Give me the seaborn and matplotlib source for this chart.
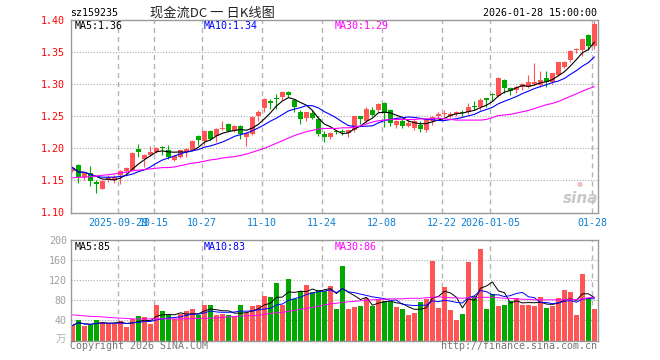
import numpy as np
import pandas as pd
import matplotlib
matplotlib.use('Agg')
import matplotlib.pyplot as plt
import seaborn as sns

# --- data (sz159235, daily K) ---
opens = [1.165, 1.174, 1.155, 1.161, 1.148, 1.137, 1.150, 1.150, 1.158, 1.164,
         1.167, 1.199, 1.184, 1.190, 1.195, 1.202, 1.198, 1.182, 1.187, 1.195,
         1.1975, 1.219, 1.211, 1.227, 1.219, 1.230, 1.238, 1.227, 1.235, 1.218,
         1.222, 1.250, 1.263, 1.274, 1.278, 1.280, 1.288, 1.2755, 1.256, 1.248,
         1.255, 1.245, 1.222, 1.218, 1.227, 1.227, 1.224, 1.229, 1.250, 1.242,
         1.259, 1.259, 1.271, 1.260, 1.236, 1.243, 1.235, 1.231, 1.236, 1.228,
         1.242, 1.250, 1.254, 1.250, 1.254, 1.256, 1.256, 1.266, 1.265, 1.278,
         1.284, 1.282, 1.307, 1.294, 1.291, 1.295, 1.296, 1.300, 1.299, 1.309,
         1.304, 1.315, 1.327, 1.337, 1.353, 1.354, 1.377, 1.359]
highs = [1.172, 1.175, 1.163, 1.172, 1.150, 1.150, 1.158, 1.158, 1.167, 1.171,
         1.194, 1.207, 1.191, 1.204, 1.202, 1.204, 1.205, 1.190, 1.198, 1.201,
         1.213, 1.221, 1.228, 1.228, 1.232, 1.243, 1.239, 1.236, 1.236, 1.226,
         1.250, 1.260, 1.278, 1.277, 1.284, 1.289, 1.289, 1.277, 1.260, 1.257,
         1.259, 1.250, 1.227, 1.226, 1.228, 1.230, 1.229, 1.251, 1.251, 1.265,
         1.264, 1.270, 1.272, 1.262, 1.244, 1.247, 1.245, 1.246, 1.242, 1.246,
         1.251, 1.257, 1.260, 1.256, 1.258, 1.259, 1.271, 1.274, 1.279, 1.279,
         1.286, 1.311, 1.308, 1.295, 1.297, 1.302, 1.315, 1.333, 1.320, 1.320,
         1.318, 1.335, 1.336, 1.354, 1.357, 1.371, 1.378, 1.398]
lows = [1.163, 1.146, 1.150, 1.141, 1.131, 1.136, 1.148, 1.146, 1.145, 1.162,
        1.166, 1.187, 1.171, 1.188, 1.193, 1.190, 1.184, 1.180, 1.185, 1.187,
        1.196, 1.205, 1.205, 1.213, 1.210, 1.228, 1.225, 1.225, 1.215, 1.204,
        1.221, 1.243, 1.256, 1.262, 1.262, 1.276, 1.280, 1.257, 1.238, 1.242,
        1.245, 1.220, 1.210, 1.214, 1.222, 1.221, 1.217, 1.226, 1.238, 1.240,
        1.250, 1.257, 1.234, 1.235, 1.231, 1.231, 1.233, 1.229, 1.226, 1.226,
        1.237, 1.248, 1.249, 1.248, 1.250, 1.250, 1.254, 1.259, 1.260, 1.265,
        1.273, 1.280, 1.287, 1.283, 1.287, 1.291, 1.294, 1.298, 1.295, 1.296,
        1.301, 1.313, 1.325, 1.334, 1.349, 1.344, 1.353, 1.355]
closes = [1.170, 1.156, 1.162, 1.149, 1.144, 1.149, 1.155, 1.156, 1.165, 1.170,
          1.193, 1.194, 1.190, 1.195, 1.201, 1.200, 1.186, 1.188, 1.197, 1.199,
          1.212, 1.213, 1.227, 1.215, 1.230, 1.232, 1.227, 1.235, 1.223, 1.224,
          1.249, 1.257, 1.277, 1.270, 1.277, 1.288, 1.283, 1.264, 1.245, 1.256,
          1.247, 1.223, 1.218, 1.224, 1.225, 1.225, 1.228, 1.250, 1.245, 1.261,
          1.252, 1.269, 1.255, 1.239, 1.243, 1.235, 1.240, 1.243, 1.230, 1.245,
          1.249, 1.254, 1.255, 1.254, 1.257, 1.255, 1.265, 1.265, 1.2755, 1.2755,
          1.283, 1.310, 1.294, 1.289, 1.296, 1.300, 1.304, 1.304, 1.307, 1.304,
          1.317, 1.334, 1.335, 1.352, 1.354, 1.370, 1.359, 1.393]
# volume in 10k shares
volumes = [30, 41, 28, 30, 41, 37, 35, 32, 38, 27,
           43, 48.5, 46, 32, 71.5, 58, 51, 43, 52, 58,
           62, 51, 71.5, 71.5, 50, 52, 50, 48.5, 71.5, 55,
           69.5, 71.5, 88, 86, 115, 71.5, 123, 83, 98, 111,
           97, 100, 99, 109, 62, 148, 62, 66, 69.5, 84,
           69.5, 83, 79, 76, 67.5, 62, 50, 54.5, 77, 83,
           158, 65.5, 107, 60, 40, 52, 157, 89, 182, 62,
           92.5, 68, 71.5, 79, 84, 71.5, 71.5, 69.5, 86, 64,
           68, 84, 101, 97, 50, 133, 84, 62]
# MA30 lines (they need history before the window)
price_ma30 = [1.154, 1.155, 1.155, 1.156, 1.157, 1.158, 1.159, 1.160, 1.162, 1.163,
              1.165, 1.166, 1.167, 1.168, 1.169, 1.170, 1.170, 1.171, 1.173, 1.175,
              1.177, 1.178, 1.180, 1.182, 1.183, 1.185, 1.186, 1.187, 1.189, 1.191,
              1.194, 1.197, 1.200, 1.204, 1.208, 1.212, 1.216, 1.220, 1.223, 1.226,
              1.228, 1.230, 1.231, 1.231, 1.231, 1.232, 1.232, 1.233, 1.235, 1.238,
              1.241, 1.243, 1.244, 1.245, 1.245, 1.245, 1.245, 1.245, 1.246, 1.246,
              1.246, 1.247, 1.246, 1.245, 1.244, 1.244, 1.244, 1.244, 1.244, 1.245,
              1.248, 1.251, 1.252, 1.253, 1.255, 1.257, 1.259, 1.262, 1.265, 1.268,
              1.270, 1.273, 1.277, 1.281, 1.285, 1.289, 1.293, 1.296]
vol_ma30 = [51, 50, 49, 48, 47.5, 47, 46, 45, 44.5, 44,
            43, 43, 43, 43, 43, 43, 43, 43, 43, 43,
            43.5, 44, 44, 44.5, 45, 46, 47, 48, 48.5, 49,
            49.5, 50, 52, 54, 55, 56, 58, 60, 62, 64,
            66, 68, 71, 73, 74, 76, 77, 78, 79, 80,
            81, 82, 82, 83, 83, 83, 84, 84, 84, 85,
            86, 87, 86, 85, 85, 84, 85, 85, 86, 86,
            86, 85, 84, 84, 83, 82, 82, 81, 81, 81,
            81, 81, 81, 81, 82, 83, 85, 86]

tick_idx = [8, 14, 22, 32, 42, 52, 62, 70, 87]
tick_labels = ['2025-09-29', '10-15', '10-27', '11-10', '11-24',
               '12-08', '12-22', '2026-01-05', '01-28']
price_ticks = [1.10, 1.15, 1.20, 1.25, 1.30, 1.35, 1.40]
vol_ticks = [40, 80, 120, 160, 200]

df = pd.DataFrame({'open': opens, 'high': highs, 'low': lows,
                   'close': closes, 'vol': volumes})
df['idx'] = np.arange(len(df))
df['dir'] = np.where(df['close'] >= df['open'], 'up', 'down')
df['ma5'] = df['close'].rolling(5, min_periods=1).mean()
df['ma10'] = df['close'].rolling(10, min_periods=1).mean()
df['ma30'] = price_ma30
df['vma5'] = df['vol'].rolling(5, min_periods=1).mean()
df['vma10'] = df['vol'].rolling(10, min_periods=1).mean()
df['vma30'] = vol_ma30

RED = '#ff5555'
GREEN = '#00a800'
palette = {'up': RED, 'down': GREEN}
colors = df['dir'].map(palette)

sns.set_style('white')
plt.rcParams['font.family'] = ['DejaVu Sans Mono', 'Noto Sans CJK SC']
mono = 'DejaVu Sans Mono'


def trunc2(v):
    # price MAs are shown cut to 2 decimals, not rounded
    return f'{np.floor(v * 100 + 1e-9) / 100:.2f}'


W, H = 660, 360
fig = plt.figure(figsize=(6.6, 3.6), dpi=100)
L, R = 71, 597.7
ax = fig.add_axes([L / W, 1 - 212.5 / H, (R - L) / W, (212.5 - 20) / H])
axv = fig.add_axes([L / W, 1 - 340.5 / H, (R - L) / W, (340.5 - 240) / H])

xmin, xmax = -0.25, 87.55
bw = 5 / 6

# candles
body_lo = df[['open', 'close']].min(axis=1)
body_h = (df['close'] - df['open']).abs().clip(lower=0.0012)
ax.vlines(df['idx'], df['low'], df['high'], colors=colors, lw=0.8, zorder=3)
ax.bar(df['idx'], body_h, bottom=body_lo, width=bw, color=colors,
       linewidth=0, zorder=4)
sns.lineplot(x=df['idx'], y=df['ma5'], ax=ax, color='black', lw=0.8, zorder=5)
sns.lineplot(x=df['idx'], y=df['ma10'], ax=ax, color='#0000ff', lw=0.8, zorder=5)
sns.lineplot(x=df['idx'], y=df['ma30'], ax=ax, color='#ff00ff', lw=0.8, zorder=5)

# volume bars
sns.barplot(data=df, x='idx', y='vol', hue='dir', palette=palette,
            native_scale=True, dodge=False, width=bw, errorbar=None,
            saturation=1, linewidth=0, legend=False, ax=axv, zorder=3)
sns.lineplot(x=df['idx'], y=df['vma5'], ax=axv, color='black', lw=0.7, zorder=5)
sns.lineplot(x=df['idx'], y=df['vma10'], ax=axv, color='#0000ff', lw=0.7, zorder=5)
sns.lineplot(x=df['idx'], y=df['vma30'], ax=axv, color='#ff00ff', lw=0.7, zorder=5)

grid_x = [t - 0.42 for t in tick_idx]
for a in (ax, axv):
    a.set_xlim(xmin, xmax)
    a.set_xlabel('')
    a.set_ylabel('')
    a.set_xticks(grid_x)
    a.grid(False)
    for xg in grid_x:
        a.axvline(xg, color='#b4b4b4', lw=1.0, ls=(0, (3.6, 2.9)), zorder=1)
    for s in a.spines.values():
        s.set_color('#999999')
        s.set_linewidth(1.0)
        s.set_zorder(6)
    a.tick_params(length=0)

ax.set_ylim(1.10, 1.40)
ax.set_yticks(price_ticks)
ax.set_yticklabels([f'{v:.2f}' for v in price_ticks], color='red',
                   fontsize=7.2, family=mono)
for v in price_ticks[1:-1]:
    ax.axhline(v, color='#aaaaaa', lw=0.8, ls=(0, (1, 1.5)), zorder=1)
ax.set_xticklabels(tick_labels, color='#0a7fd4', fontsize=7.2, family=mono)
ax.tick_params(axis='y', pad=4.3)
ax.tick_params(axis='x', pad=3.8)

axv.set_ylim(0, 200)
axv.set_yticks(vol_ticks)
axv.set_yticklabels([str(v) for v in vol_ticks], color='#a0a0a0',
                    fontsize=7.2, family=mono)
for v in vol_ticks[:-1]:
    axv.axhline(v, color='#aaaaaa', lw=0.8, ls=(0, (1, 1.5)), zorder=1)
axv.set_xticklabels([])
axv.tick_params(axis='y', pad=3)


def ftext(x, y, s, **kw):
    fig.text(x / W, 1 - y / H, s, va='center', **kw)


ftext(70, 13, 'sz159235', fontsize=7.2, color='black', family=mono)
ftext(150, 13, '现金流DC 一 日K线图', fontsize=9.5, color='#222222',
      family=['Noto Sans CJK SC', 'DejaVu Sans'])
ftext(597, 13, '2026-01-28 15:00:00', fontsize=7.2, color='black',
      family=mono, ha='right')

ftext(75, 26, 'MA5:' + trunc2(df['ma5'].iloc[-1]), fontsize=7.2, color='black', family=mono)
ftext(204, 26, 'MA10:' + trunc2(df['ma10'].iloc[-1]), fontsize=7.2, color='#0000ff', family=mono)
ftext(335, 26, 'MA30:' + trunc2(price_ma30[-1]), fontsize=7.2, color='#ff00ff', family=mono)
ftext(75, 247, f'MA5:{df["vma5"].iloc[-1]:.0f}', fontsize=7.2, color='black', family=mono)
ftext(204, 247, f'MA10:{df["vma10"].iloc[-1]:.0f}', fontsize=7.2, color='#0000ff', family=mono)
ftext(335, 247, f'MA30:{vol_ma30[-1]:.0f}', fontsize=7.2, color='#ff00ff', family=mono)

ftext(66, 340, '万', fontsize=7.5, color='#b0b0b0', ha='right',
      family=['Noto Sans CJK SC', 'DejaVu Sans'])
ftext(70, 346, 'Copyright 2026 SINA.COM', fontsize=7.2, color='#777777', family=mono)
ftext(597, 346, 'http://finance.sina.com.cn', fontsize=7.2, color='#777777',
      family=mono, ha='right')

# sina watermark
ftext(581, 198, 'sina', fontsize=11, color='#c8c8c8', ha='center',
      fontweight='bold', style='italic', family='DejaVu Sans')
ftext(580, 184, '●', fontsize=5, color='#f5c0c0', ha='center', family='DejaVu Sans')

fig.savefig('out.png', dpi=100)
